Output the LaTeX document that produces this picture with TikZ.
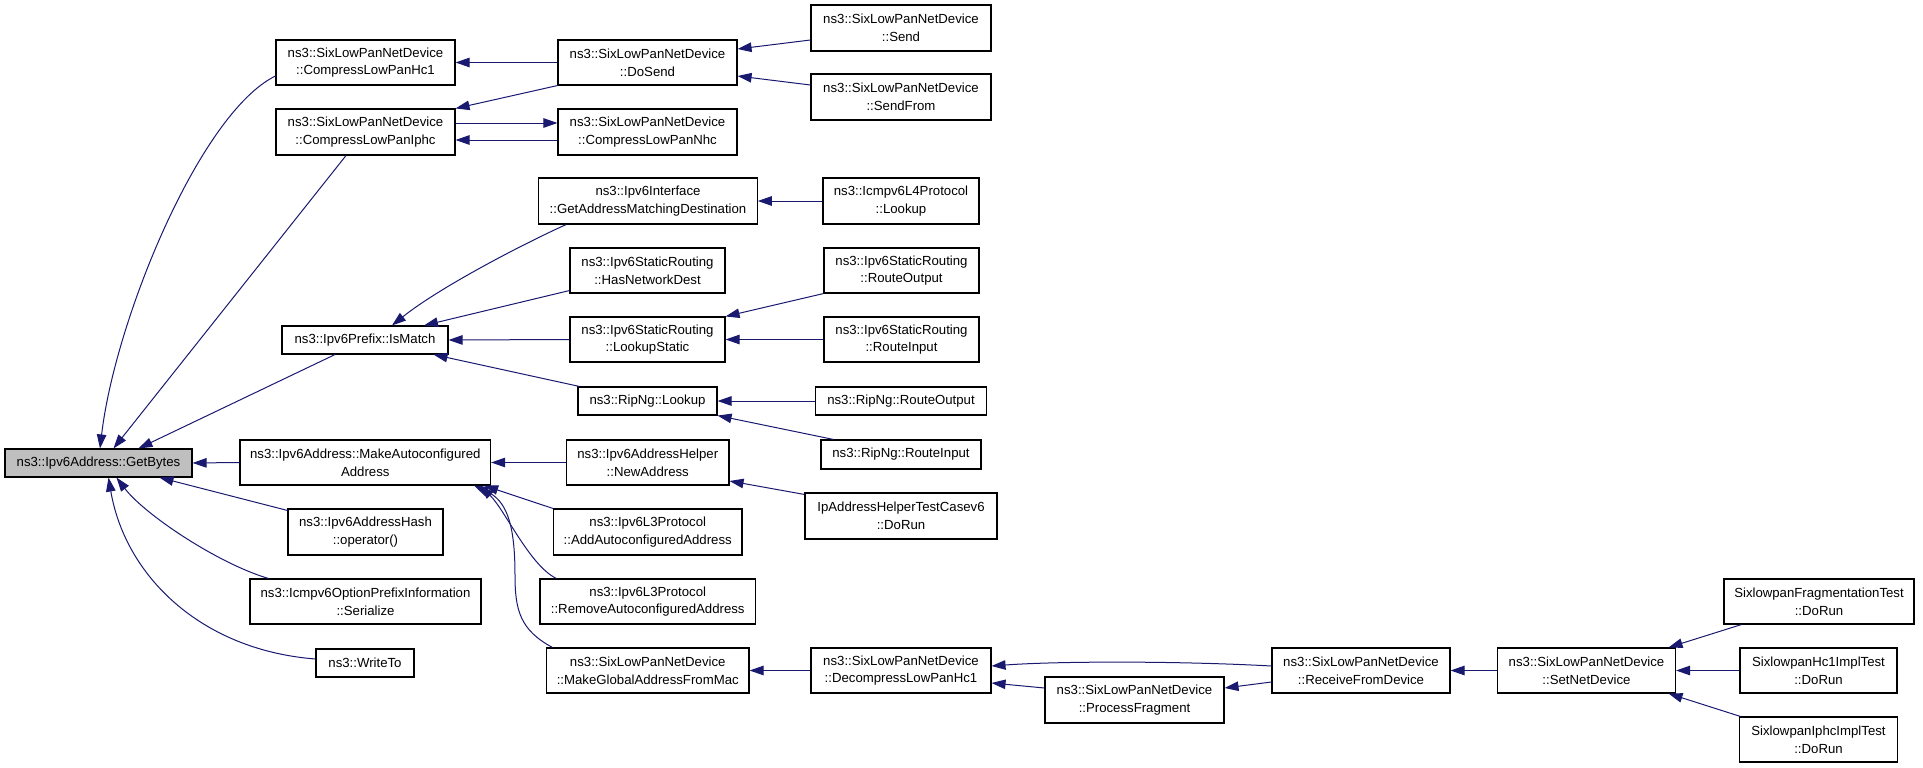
\documentclass[tikz,border=0pt]{standalone}
\usepackage{fontspec}
\setmainfont{Liberation Sans}
\usetikzlibrary{arrows.meta,calc}
\definecolor{edgeblue}{HTML}{191970}
\definecolor{hlgray}{HTML}{BFBFBF}
\begin{document}
\begin{tikzpicture}[x=1pt,y=1pt,
  box/.style={draw=black,line width=1.1pt,fill=white,inner sep=0pt,align=center,
    font=\fontsize{13.2}{17.6}\selectfont},
  edge/.style={draw=edgeblue,line width=1pt,-{Triangle[length=14pt,width=9.5pt]}}]
\useasboundingbox (0,0) rectangle (1923,-768);
% nodes
\node[box,fill=hlgray,minimum width=187,minimum height=28] (gb) at (98.5,-463) {ns3::Ipv6Address::GetBytes};
\node[box,minimum width=179,minimum height=45] (hc1) at (365.5,-62.5) {ns3::SixLowPanNetDevice\\::CompressLowPanHc1};
\node[box,minimum width=179,minimum height=46] (iphc) at (365.5,-132) {ns3::SixLowPanNetDevice\\::CompressLowPanIphc};
\node[box,minimum width=179,minimum height=45] (dosend) at (647.5,-62.5) {ns3::SixLowPanNetDevice\\::DoSend};
\node[box,minimum width=179,minimum height=46] (nhc) at (647.5,-132) {ns3::SixLowPanNetDevice\\::CompressLowPanNhc};
\node[box,minimum width=218.5,minimum height=46] (gamd) at (648,-201) {ns3::Ipv6Interface\\::GetAddressMatchingDestination};
\node[box,minimum width=155,minimum height=45] (hnd) at (647.5,-270.5) {ns3::Ipv6StaticRouting\\::HasNetworkDest};
\node[box,minimum width=155,minimum height=45] (ls) at (647.5,-339.5) {ns3::Ipv6StaticRouting\\::LookupStatic};
\node[box,minimum width=166,minimum height=28] (ism) at (365,-340) {ns3::Ipv6Prefix::IsMatch};
\node[box,minimum width=139,minimum height=28] (rl) at (647.5,-401) {ns3::RipNg::Lookup};
\node[box,minimum width=180,minimum height=46] (send) at (901,-28) {ns3::SixLowPanNetDevice\\::Send};
\node[box,minimum width=180,minimum height=46] (sendfrom) at (901,-97) {ns3::SixLowPanNetDevice\\::SendFrom};
\node[box,minimum width=156,minimum height=46] (icl) at (901,-201) {ns3::Icmpv6L4Protocol\\::Lookup};
\node[box,minimum width=155,minimum height=45] (sro) at (901.5,-270.5) {ns3::Ipv6StaticRouting\\::RouteOutput};
\node[box,minimum width=155,minimum height=45] (sri) at (901.5,-339.5) {ns3::Ipv6StaticRouting\\::RouteInput};
\node[box,minimum width=171.5,minimum height=28] (rro) at (901,-401) {ns3::RipNg::RouteOutput};
\node[box,minimum width=160,minimum height=29] (rri) at (901,-454.5) {ns3::RipNg::RouteInput};
\node[box,minimum width=192,minimum height=46] (iah) at (901,-516) {IpAddressHelperTestCasev6\\::DoRun};
\node[box,minimum width=250.6,minimum height=45] (mac) at (365.3,-462.5) {ns3::Ipv6Address::MakeAutoconfigured\\Address};
\node[box,minimum width=155,minimum height=46] (oper) at (365.5,-532) {ns3::Ipv6AddressHash\\::operator()};
\node[box,minimum width=231,minimum height=45] (ser) at (365.5,-601.5) {ns3::Icmpv6OptionPrefixInformation\\::Serialize};
\node[box,minimum width=98,minimum height=28] (wt) at (365,-663) {ns3::WriteTo};
\node[box,minimum width=162.5,minimum height=45] (na) at (647.75,-462.5) {ns3::Ipv6AddressHelper\\::NewAddress};
\node[box,minimum width=188.5,minimum height=46] (aaa) at (647.75,-532) {ns3::Ipv6L3Protocol\\::AddAutoconfiguredAddress};
\node[box,minimum width=215.5,minimum height=45] (raa) at (647.75,-601.5) {ns3::Ipv6L3Protocol\\::RemoveAutoconfiguredAddress};
\node[box,minimum width=202.5,minimum height=45] (mga) at (647.75,-670.5) {ns3::SixLowPanNetDevice\\::MakeGlobalAddressFromMac};
\node[box,minimum width=180,minimum height=45] (dhc) at (901,-670.5) {ns3::SixLowPanNetDevice\\::DecompressLowPanHc1};
\node[box,minimum width=179,minimum height=46] (pf) at (1134.5,-700) {ns3::SixLowPanNetDevice\\::ProcessFragment};
\node[box,minimum width=178,minimum height=45] (rfd) at (1361,-670.5) {ns3::SixLowPanNetDevice\\::ReceiveFromDevice};
\node[box,minimum width=178,minimum height=45] (snd) at (1586.5,-670.5) {ns3::SixLowPanNetDevice\\::SetNetDevice};
\node[box,minimum width=190,minimum height=45] (sft) at (1819,-601.5) {SixlowpanFragmentationTest\\::DoRun};
\node[box,minimum width=157,minimum height=45] (shc) at (1818.5,-670.5) {SixlowpanHc1ImplTest\\::DoRun};
\node[box,minimum width=158,minimum height=45] (sip) at (1818.5,-739.5) {SixlowpanIphcImplTest\\::DoRun};
% edges into GetBytes
\draw[edge] ([yshift=-13.5]hc1.west) .. controls (200,-113) and (115,-320) .. ([xshift=1.5]gb.north);
\draw[edge] ([xshift=-19.5]iphc.south) -- ([xshift=15]gb.north);
\draw[edge] ([xshift=-30]ism.south) -- ([xshift=40]gb.north);
\draw[edge] (mac.west) -- (gb.east);
\draw[edge] ([yshift=-2]oper.north west) -- ([xshift=61]gb.south);
\draw[edge] ([xshift=19]ser.north west) .. controls (219,-564) and (145,-515) .. ([xshift=18]gb.south);
\draw[edge] ([yshift=4]wt.west) .. controls (200,-650) and (125,-575) .. ([xshift=10]gb.south);
% upper group
\draw[edge] (dosend.west) -- (hc1.east);
\draw[edge] (dosend.south west) -- (iphc.north east);
\draw[edge] ([yshift=9]iphc.east) -- ([yshift=9]nhc.west);
\draw[edge] ([yshift=-8]nhc.west) -- ([yshift=-8]iphc.east);
\draw[edge] ([yshift=-12]send.west) -- ([yshift=13.5]dosend.east);
\draw[edge] ([yshift=12]sendfrom.west) -- ([yshift=-13.5]dosend.east);
% IsMatch group
\draw[edge] ([xshift=28]gamd.south west) .. controls (525,-243) and (440,-287) .. ([xshift=27]ism.north);
\draw[edge] ([yshift=3]hnd.south west) -- ([xshift=59]ism.north);
\draw[edge] (ls.west) -- (ism.east);
\draw[edge] ([xshift=2]rl.north west) -- ([xshift=-15]ism.south east);
\draw[edge] (icl.west) -- (gamd.east);
\draw[edge] (sro.south west) -- (ls.north east);
\draw[edge] (sri.west) -- (ls.east);
\draw[edge] (rro.west) -- (rl.east);
\draw[edge] ([xshift=13]rri.north west) -- (rl.south east);
% MakeAutoconfigured group
\draw[edge] (na.west) -- (mac.east);
\draw[edge] (aaa.north west) -- ([xshift=-7]mac.south east);
\draw[edge] ([xshift=17]raa.north west) .. controls (530,-566) and (505,-510) .. ([xshift=-11]mac.south east);
\draw[edge] ([xshift=6.5]mga.north west) .. controls (520,-630) and (515,-610) .. (515,-575) .. controls (515,-520) and (505,-500) .. ([xshift=-17]mac.south east);
\draw[edge] ([yshift=-2]iah.north west) -- ([yshift=-18.5]na.east);
% bottom chain
\draw[edge] (dhc.west) -- (mga.east);
\draw[edge] ([yshift=4.5]rfd.west) .. controls (1180,-661) and (1060,-661) .. ([yshift=4.5]dhc.east);
\draw[edge] ([yshift=12]pf.west) -- ([yshift=-12.5]dhc.east);
\draw[edge] ([yshift=-11.5]rfd.west) -- ([yshift=12]pf.east);
\draw[edge] (snd.west) -- (rfd.east);
\draw[edge] ([xshift=18]sft.south west) -- ([xshift=-7.5]snd.north east);
\draw[edge] (shc.west) -- (snd.east);
\draw[edge] ([xshift=1.5]sip.north west) -- ([xshift=-7.5]snd.south east);
\end{tikzpicture}
\end{document}
